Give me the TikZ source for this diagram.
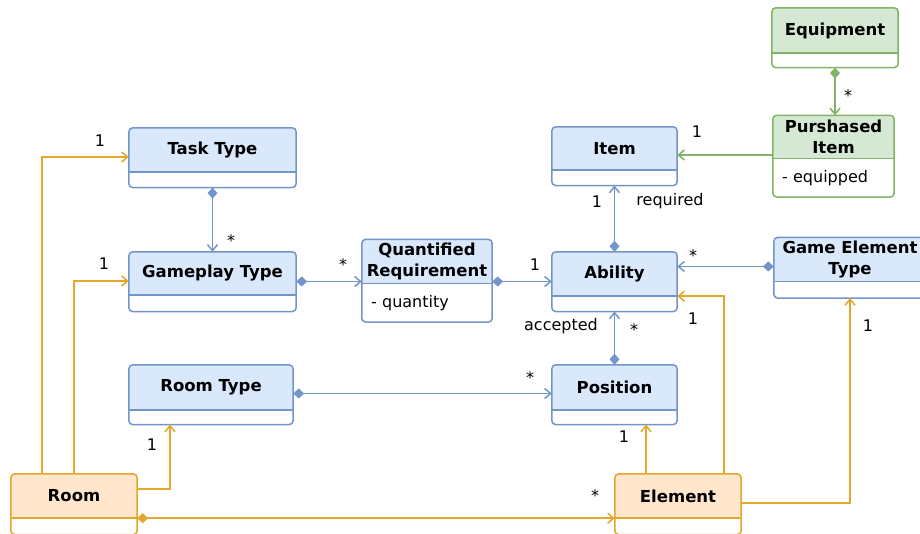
\documentclass[tikz,border=0pt]{standalone}
\usepackage{fontspec}
\setmainfont{DejaVu Sans}
\usetikzlibrary{positioning}
\usetikzlibrary{arrows.meta}
\usetikzlibrary{backgrounds}

\definecolor{bluefill}{HTML}{DAE8FC}
\definecolor{blueline}{HTML}{7396CA}
\definecolor{greenfill}{HTML}{D5E8D4}
\definecolor{greenline}{HTML}{82B366}
\definecolor{orangefill}{HTML}{FFE6CC}
\definecolor{orangeline}{HTML}{E2A72B}

\tikzset{
  head/.style={inner sep=0pt, align=center,
    font=\bfseries\fontsize{16.5}{20.5}\selectfont},
  body/.style={inner sep=0pt},
  attr/.style={inner xsep=9pt, inner ysep=0pt, align=left,
    font=\fontsize{16}{18}\selectfont},
  mult/.style={inner sep=0pt, font=\fontsize{16}{18}\selectfont},
  comp/.style={draw=#1line, line width=1.5pt,
    {Diamond[length=11pt,width=10pt]}-{Straight Barb[length=6pt,width=10pt]}},
  assoc/.style={draw=#1line, line width=1.5pt,
    -{Straight Barb[length=6pt,width=10pt]}},
}

% header fill, outer frame and divider of one class box
\newcommand{\umlframe}[3]{%
  \begin{pgfonlayer}{background}
    \begin{scope}
      \clip[rounded corners=4pt] (#1.north west) rectangle (#2.south east);
      \fill[white] (#1.north west) rectangle (#2.south east);
      \fill[#3fill] (#1.north west) rectangle (#1.south east);
    \end{scope}
  \end{pgfonlayer}
  \draw[#3line, line width=1.5pt, rounded corners=4pt]
    (#1.north west) rectangle (#2.south east);
  \draw[#3line, line width=1.5pt] (#1.south west) -- (#1.south east);
}

\begin{document}
\begin{tikzpicture}[x=1pt, y=-1pt]
    \begin{pgfonlayer}{background}
      \fill[white] (0,0) rectangle (920,534);
    \end{pgfonlayer}
    \useasboundingbox (0,0) rectangle (920,534);

    % classes
    \path (212.5,150) node [head, minimum width=167pt, minimum height=44pt] (task) {Task Type};
    \node [body, minimum width=167pt, minimum height=15pt, below=0pt of task] (task-b) {};
    \path (212.5,273.5) node [head, minimum width=167pt, minimum height=43pt] (game) {Gameplay Type};
    \node [body, minimum width=167pt, minimum height=16pt, below=0pt of game] (game-b) {};
    \path (427,261.5) node [head, minimum width=130pt, minimum height=44pt] (qr) {Quantified\\Requirement};
    \node [attr, text width=112pt, minimum height=38pt, below=0pt of qr] (qr-b) {- quantity};
    \path (614.5,148.5) node [head, minimum width=125pt, minimum height=43pt] (item) {Item};
    \node [body, minimum width=125pt, minimum height=15pt, below=0pt of item] (item-b) {};
    \path (835,30.5) node [head, minimum width=126pt, minimum height=45pt] (equip) {Equipment};
    \node [body, minimum width=126pt, minimum height=14pt, below=0pt of equip] (equip-b) {};
    \path (833.5,137) node [head, minimum width=121pt, minimum height=43pt] (pi) {Purshased\\Item};
    \node [attr, text width=103pt, minimum height=38pt, below=0pt of pi] (pi-b) {- equipped};
    \path (614.5,274) node [head, minimum width=125pt, minimum height=44pt] (ability) {Ability};
    \node [body, minimum width=125pt, minimum height=15pt, below=0pt of ability] (ability-b) {};
    \path (850,259.5) node [head, minimum width=152pt, minimum height=44pt] (get) {Game Element\\Type};
    \node [body, minimum width=152pt, minimum height=16pt, below=0pt of get] (get-b) {};
    \path (211,387.5) node [head, minimum width=164pt, minimum height=45pt] (rtype) {Room Type};
    \node [body, minimum width=164pt, minimum height=14pt, below=0pt of rtype] (rtype-b) {};
    \path (614.5,387.5) node [head, minimum width=125pt, minimum height=45pt] (pos) {Position};
    \node [body, minimum width=125pt, minimum height=14pt, below=0pt of pos] (pos-b) {};
    \path (74,496) node [head, minimum width=126pt, minimum height=44pt] (room) {Room};
    \node [body, minimum width=126pt, minimum height=16pt, below=0pt of room] (room-b) {};
    \path (678,496) node [head, minimum width=126pt, minimum height=44pt] (elem) {Element};
    \node [body, minimum width=126pt, minimum height=16pt, below=0pt of elem] (elem-b) {};

    \umlframe{task}{task-b}{blue}
    \umlframe{game}{game-b}{blue}
    \umlframe{qr}{qr-b}{blue}
    \umlframe{item}{item-b}{blue}
    \umlframe{ability}{ability-b}{blue}
    \umlframe{get}{get-b}{blue}
    \umlframe{rtype}{rtype-b}{blue}
    \umlframe{pos}{pos-b}{blue}
    \umlframe{equip}{equip-b}{green}
    \umlframe{pi}{pi-b}{green}
    \umlframe{room}{room-b}{orange}
    \umlframe{elem}{elem-b}{orange}

    % blue compositions
    \draw [comp=blue] (task-b.south) -- (game.north);
    \draw [comp=blue] ([yshift=-8pt]game.east) -- ([yshift=-20pt]qr.west);
    \draw [comp=blue] ([yshift=-20pt]qr.east) -- ([yshift=-7.5pt]ability.west);
    \draw [comp=blue] (ability.north) -- (item-b.south);
    \draw [comp=blue] (pos.north) -- (ability-b.south);
    \draw [comp=blue] ([yshift=-6pt]rtype.east) -- ([yshift=-6pt]pos.west);
    \draw [comp=blue] ([yshift=-7pt]get.west) -- ([yshift=7.5pt]ability.east);

    % green
    \draw [comp=green] (equip-b.south) -- (equip-b.south |- pi.north);
    \draw [assoc=green] ([yshift=-18pt]pi.west) -- ([yshift=-6.5pt]item.east);

    % orange
    \draw [assoc=orange] ([xshift=-32pt]room.north) |- ([yshift=-7pt]task.west);
    \draw [assoc=orange] (room.north) |- ([yshift=-7.5pt]game.west);
    \draw [assoc=orange] ([yshift=7pt]room.east) -| ([xshift=-41pt]rtype-b.south);
    \draw [comp=orange] (room.south east) -- (elem.south west);
    \draw [assoc=orange] ([xshift=-32pt]elem.north) -- ([xshift=-32pt]elem.north |- pos-b.south);
    \draw [assoc=orange] ([xshift=46pt]elem.north) |- (ability.south east);
    \draw [assoc=orange] ([yshift=-7pt]elem.east) -| (get-b.south);

    % multiplicities and roles
    \path (100,141) node [mult] (m-task) {1};
    \path (104,264) node [mult] (m-game) {1};
    \path (152,445) node [mult] (m-rtype) {1};
    \path (595,496) node [mult] (m-elem) {*};
    \path (624,437) node [mult] (m-pos) {1};
    \path (693,319) node [mult] (m-abil) {1};
    \path (868,326) node [mult] (m-get) {1};
    \path (231,241) node [mult] (m-gtask) {*};
    \path (343,265) node [mult] (m-qr) {*};
    \path (535,265) node [mult] (m-qrab) {1};
    \path (597,202) node [mult] (m-item) {1};
    \path (670,201) node [mult] (r-req) {required};
    \path (634,330) node [mult] (m-acc) {*};
    \path (561,326) node [mult] (r-acc) {accepted};
    \path (530,378) node [mult] (m-rpos) {*};
    \path (693,256) node [mult] (m-getab) {*};
    \path (848,96) node [mult] (m-equip) {*};
    \path (697,132) node [mult] (m-pi) {1};
\end{tikzpicture}
\end{document}
